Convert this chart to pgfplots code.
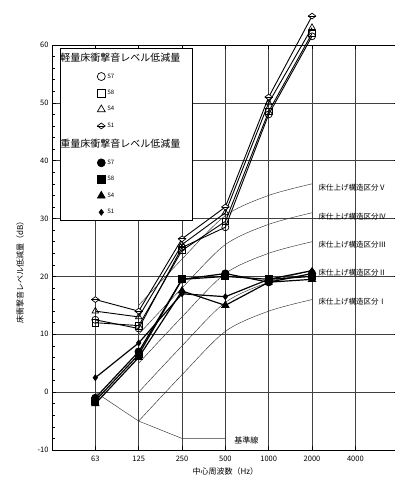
\documentclass[border=0pt]{standalone}
\usepackage{fontspec}
\setmainfont{Noto Sans CJK JP}
\usepackage{pgfplots}
\pgfplotsset{compat=1.18}
\pgfdeclareplotmark{diamondplus}{%
  \pgfpathmoveto{\pgfqpoint{0pt}{0.9\pgfplotmarksize}}%
  \pgfpathlineto{\pgfqpoint{1.2\pgfplotmarksize}{0pt}}%
  \pgfpathlineto{\pgfqpoint{0pt}{-0.9\pgfplotmarksize}}%
  \pgfpathlineto{\pgfqpoint{-1.2\pgfplotmarksize}{0pt}}%
  \pgfpathclose
  \pgfusepathqfillstroke
  \pgfpathmoveto{\pgfqpoint{-1.2\pgfplotmarksize}{0pt}}%
  \pgfpathlineto{\pgfqpoint{1.2\pgfplotmarksize}{0pt}}%
  \pgfusepathqstroke
}
\begin{document}
\begin{tikzpicture}
\path[use as bounding box] (-52pt,-34pt) rectangle (343pt,450pt);
\begin{axis}[
  at={(0pt,0pt)}, anchor=south west,
  scale only axis, width=346.7pt, height=405pt,
  xmin=-1, xmax=7, ymin=-10, ymax=60,
  xtick={0,...,6}, xticklabels={63,125,250,500,1000,2000,4000},
  ytick={-10,0,...,60},
  minor y tick num=4,
  grid=major, major grid style={black!75, line width=0.6pt},
  axis line style={black, line width=0.8pt},
  tick style={black, line width=0.5pt},
  tick label style={font=\fontsize{7.5}{9}\selectfont},
  xticklabel style={yshift=-3pt},
  /pgf/number format/assume math mode=true,
  xlabel={中心周波数（Hz）},
  xlabel style={font=\fontsize{8}{9}\selectfont, yshift=1pt},
  ylabel={床衝撃音レベル低減量（dB）},
  ylabel style={font=\fontsize{8}{9}\selectfont, at={(axis description cs:-0.092,0.444)}, anchor=center},
  clip=false,
  legend style={at={(axis description cs:0.023,0.993)}, anchor=north west,
    draw=black, line width=0.6pt, fill=white, inner xsep=32.5pt, inner ysep=3pt,
    font=\fontsize{6}{7}\selectfont, row sep=6.5pt, cells={anchor=west},
    /tikz/every even column/.style={column sep=4pt}},
]
% reference curves
\addplot[black!80, line width=0.45pt, smooth, forget plot] coordinates {(1,15)(2,23)(3,30.5)(4,34)(5,36)};
\addplot[black!80, line width=0.45pt, smooth, forget plot] coordinates {(1,10)(2,18)(3,25.5)(4,29)(5,31)};
\addplot[black!80, line width=0.45pt, smooth, forget plot] coordinates {(1,5)(2,13)(3,20.5)(4,24)(5,26)};
\addplot[black!80, line width=0.45pt, smooth, forget plot] coordinates {(1,0)(2,8)(3,15.5)(4,19)(5,21)};
\addplot[black!80, line width=0.45pt, smooth, forget plot] coordinates {(1,-5)(2,3)(3,10.5)(4,14)(5,16)};
% base line
\addplot[black!80, line width=0.45pt, forget plot] coordinates {(0,0)(1,-5)(2,-8)(3,-8)};
\node[anchor=west, font=\fontsize{8}{9}\selectfont, inner sep=1pt] at (axis cs:3.18,-8.4) {基準線};
\node[anchor=west, font=\fontsize{7.5}{9}\selectfont, inner sep=0pt] at (axis cs:5.15,35.4) {床仕上げ構造区分Ⅴ};
\node[anchor=west, font=\fontsize{7.5}{9}\selectfont, inner sep=0pt] at (axis cs:5.15,30.3) {床仕上げ構造区分Ⅳ};
\node[anchor=west, font=\fontsize{7.5}{9}\selectfont, inner sep=0pt] at (axis cs:5.15,25.5) {床仕上げ構造区分Ⅲ};
\node[anchor=west, font=\fontsize{7.5}{9}\selectfont, inner sep=0pt] at (axis cs:5.15,20.6) {床仕上げ構造区分Ⅱ};
\node[anchor=west, font=\fontsize{7.5}{9}\selectfont, inner sep=0pt] at (axis cs:5.15,15.6) {床仕上げ構造区分Ⅰ};
% light impact (open)
\addplot[black, line width=0.9pt, mark=o, mark size=3.5pt, mark options={fill=white, line width=0.7pt}, forget plot] coordinates {(0,12.5)(1,11)(2,25)(3,28.5)(4,48)(5,61.5)};
\addplot[black, line width=0.9pt, mark=square, mark size=3.3pt, mark options={fill=white, line width=0.7pt}, forget plot] coordinates {(0,12)(1,11.5)(2,24.5)(3,29.5)(4,48.5)(5,62)};
\addplot[black, line width=0.9pt, mark=triangle, mark size=3.8pt, mark options={fill=white, line width=0.7pt}, forget plot] coordinates {(0,14)(1,13)(2,25.5)(3,31)(4,50)(5,63)};
\addplot[black, line width=0.9pt, mark=diamondplus, mark size=3.2pt, mark options={fill=white, line width=0.7pt}, forget plot] coordinates {(0,16)(1,14)(2,26.5)(3,32)(4,51)(5,65)};
% heavy impact (filled)
\addplot[black, line width=1.2pt, mark=*, mark size=3.5pt, forget plot] coordinates {(0,-1)(1,7)(2,19.5)(3,20.5)(4,19)(5,20.5)};
\addplot[black, line width=1.2pt, mark=square*, mark size=3.3pt, forget plot] coordinates {(0,-1.5)(1,6.5)(2,19.5)(3,20)(4,19.5)(5,20)};
\addplot[black, line width=1.2pt, mark=triangle*, mark size=3.8pt, forget plot] coordinates {(0,-2)(1,6)(2,17.5)(3,15)(4,19)(5,19.5)};
\addplot[black, line width=1.2pt, mark=diamond*, mark size=2.6pt, forget plot] coordinates {(0,2.5)(1,8.5)(2,17)(3,16.5)(4,19.5)(5,21)};
% legend
\addlegendimage{empty legend}
\addlegendentry{\fontsize{10}{10}\selectfont\hspace*{-47pt}\makebox[97pt][l]{軽量床衝撃音レベル低減量}}
\addlegendimage{only marks, black, mark=o, mark size=4pt, mark options={fill=white, line width=0.7pt}}
\addlegendentry{S7}
\addlegendimage{only marks, black, mark=square, mark size=4pt, mark options={fill=white, line width=0.7pt}}
\addlegendentry{S8}
\addlegendimage{only marks, black, mark=triangle, mark size=4.5pt, mark options={fill=white, line width=0.7pt}}
\addlegendentry{S4}
\addlegendimage{only marks, black, mark=diamondplus, mark size=3.2pt, mark options={fill=white, line width=0.7pt}}
\addlegendentry{S1}
\addlegendimage{empty legend}
\addlegendentry{\fontsize{10}{10}\selectfont\hspace*{-47pt}\makebox[97pt][l]{重量床衝撃音レベル低減量}}
\addlegendimage{only marks, black, mark=*, mark size=4pt}
\addlegendentry{S7}
\addlegendimage{only marks, black, mark=square*, mark size=4pt}
\addlegendentry{S8}
\addlegendimage{only marks, black, mark=triangle*, mark size=4.5pt}
\addlegendentry{S4}
\addlegendimage{only marks, black, mark=diamond*, mark size=3pt}
\addlegendentry{S1}
\end{axis}
\end{tikzpicture}
\end{document}
